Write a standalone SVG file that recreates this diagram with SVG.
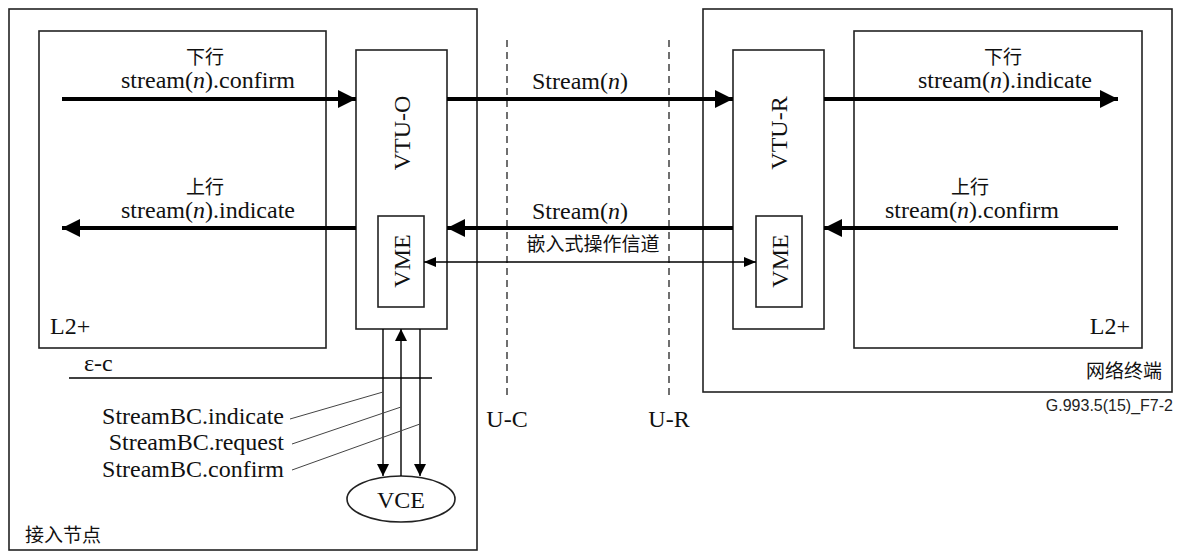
<svg xmlns="http://www.w3.org/2000/svg" width="1179" height="551" viewBox="0 0 1179 551">
<style>
.box{fill:none;stroke:#222;stroke-width:1.6}
.t{font-family:"Liberation Serif","Times New Roman",serif;font-size:24px;fill:#111}
.cjk{font-family:"Noto Sans CJK SC","Noto Sans",sans-serif;font-size:19px;fill:#111}
.thick{stroke:#000;stroke-width:4;fill:none}
.thin{stroke:#000;stroke-width:1.4;fill:none}
.lead{stroke:#444;stroke-width:1;fill:none}
.dash{stroke:#333;stroke-width:1.4;stroke-dasharray:7,5;fill:none}
.ital{font-style:italic}
</style>
<defs>
<marker id="big" markerWidth="18" markerHeight="18" refX="18" refY="9" orient="auto" markerUnits="userSpaceOnUse"><path d="M0,0 L18,9 L0,18 Z" fill="#000"/></marker>
<marker id="small" markerWidth="12" markerHeight="10" refX="12" refY="5" orient="auto-start-reverse" markerUnits="userSpaceOnUse"><path d="M0,0 L12,5 L0,10 Z" fill="#000"/></marker>
<marker id="sm" markerWidth="12" markerHeight="12" refX="12" refY="6" orient="auto" markerUnits="userSpaceOnUse"><path d="M0,0 L12,6 L0,12 Z" fill="#000"/></marker>
</defs>
<rect width="1179" height="551" fill="#fff"/>

<g id="access-node">
<rect class="box" x="9" y="9" width="468" height="541"/>
<text class="cjk" x="25" y="542">接入节点</text>
</g>
<g id="network-terminal">
<rect class="box" x="703" y="9" width="469" height="383"/>
<text class="cjk" x="1162" y="378" text-anchor="end">网络终端</text>
</g>
<g id="l2-left">
<rect class="box" x="39" y="31" width="287" height="317"/>
<text class="t" x="50" y="334">L2+</text>
</g>
<g id="l2-right">
<rect class="box" x="854" y="31" width="288" height="317"/>
<text class="t" x="1130" y="334" text-anchor="end">L2+</text>
</g>
<g id="vtu-o">
<rect class="box" x="356" y="50" width="91" height="279"/>
<text class="t" transform="translate(410,133) rotate(-90)" text-anchor="middle">VTU-O</text>
</g>
<g id="vme-left">
<rect class="box" x="378" y="216" width="46" height="91"/>
<text class="t" transform="translate(410,261) rotate(-90)" text-anchor="middle">VME</text>
</g>
<g id="vtu-r">
<rect class="box" x="733" y="50" width="91" height="279"/>
<text class="t" transform="translate(787,133) rotate(-90)" text-anchor="middle">VTU-R</text>
</g>
<g id="vme-right">
<rect class="box" x="756" y="216" width="46" height="91"/>
<text class="t" transform="translate(788,261) rotate(-90)" text-anchor="middle">VME</text>
</g>
<g id="vce">
<ellipse cx="401" cy="499" rx="54" ry="23" fill="#fff" stroke="#222" stroke-width="1.6"/>
<text class="t" x="401" y="508" text-anchor="middle">VCE</text>
</g>
<g id="ref-points">
<line class="dash" x1="507" y1="40" x2="507" y2="397"/>
<line class="dash" x1="669" y1="40" x2="669" y2="397"/>
<text class="t" x="507" y="427" text-anchor="middle">U-C</text>
<text class="t" x="669" y="427" text-anchor="middle">U-R</text>
<line class="thin" x1="69" y1="378" x2="432" y2="378"/>
<text class="t" x="84" y="371">ε-c</text>
</g>

<g id="connectors">
<line class="thick" x1="62" y1="99" x2="356" y2="99" marker-end="url(#big)"/>
<line class="thick" x1="447" y1="99" x2="733" y2="99" marker-end="url(#big)"/>
<line class="thick" x1="824" y1="99" x2="1118" y2="99" marker-end="url(#big)"/>
<line class="thick" x1="1118" y1="228" x2="824" y2="228" marker-end="url(#big)"/>
<line class="thick" x1="733" y1="228" x2="447" y2="228" marker-end="url(#big)"/>
<line class="thick" x1="356" y1="228" x2="62" y2="228" marker-end="url(#big)"/>
<line class="thin" x1="424" y1="262" x2="756" y2="262" marker-start="url(#small)" marker-end="url(#small)"/>
<line class="thin" x1="383" y1="329" x2="383" y2="476" marker-end="url(#sm)"/>
<line class="thin" x1="401" y1="476" x2="401" y2="329" marker-end="url(#sm)"/>
<line class="thin" x1="420" y1="329" x2="420" y2="476" marker-end="url(#sm)"/>
<line class="lead" x1="290" y1="419" x2="383" y2="392"/>
<line class="lead" x1="292" y1="444" x2="401" y2="407"/>
<line class="lead" x1="292" y1="470" x2="420" y2="424"/>
</g>

<g id="labels">
<text class="cjk" x="205" y="64" text-anchor="middle" font-size="17">下行</text>
<text class="t" x="208" y="88" text-anchor="middle">stream(<tspan class="ital">n</tspan>).confirm</text>
<text class="cjk" x="205" y="194" text-anchor="middle" font-size="17">上行</text>
<text class="t" x="208" y="218" text-anchor="middle">stream(<tspan class="ital">n</tspan>).indicate</text>
<text class="t" x="580" y="89" text-anchor="middle">Stream(<tspan class="ital">n</tspan>)</text>
<text class="t" x="580" y="219" text-anchor="middle">Stream(<tspan class="ital">n</tspan>)</text>
<text class="cjk" x="593" y="251" text-anchor="middle">嵌入式操作信道</text>
<text class="cjk" x="1003" y="64" text-anchor="middle" font-size="17">下行</text>
<text class="t" x="1005" y="88" text-anchor="middle">stream(<tspan class="ital">n</tspan>).indicate</text>
<text class="cjk" x="970" y="194" text-anchor="middle" font-size="17">上行</text>
<text class="t" x="972" y="218" text-anchor="middle">stream(<tspan class="ital">n</tspan>).confirm</text>
<text class="t" x="284" y="424" text-anchor="end">StreamBC.indicate</text>
<text class="t" x="284" y="450" text-anchor="end">StreamBC.request</text>
<text class="t" x="284" y="477" text-anchor="end">StreamBC.confirm</text>
<text x="1173" y="411" text-anchor="end" font-family="Liberation Sans,Arial,sans-serif" font-size="16" fill="#222">G.993.5(15)_F7-2</text>
</g>
</svg>
